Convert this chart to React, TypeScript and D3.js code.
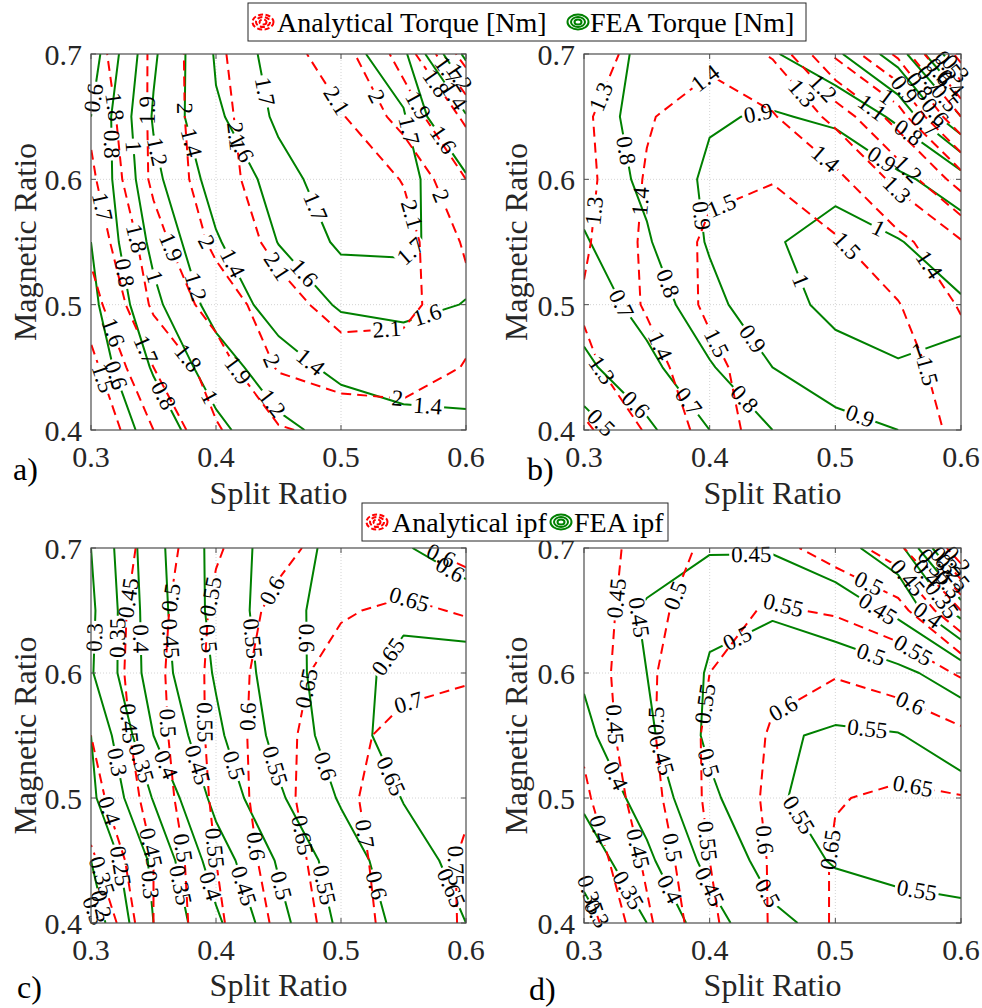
import React from "react";
import * as d3 from "d3";

type Pt = [number, number];

const splitRatio = [0.3, 0.35, 0.4, 0.45, 0.5, 0.55, 0.6];
const magneticRatio = [0.4, 0.45, 0.5, 0.55, 0.6, 0.65, 0.7];
const xTickValues = [0.3, 0.4, 0.5, 0.6];
const yTickValues = [0.4, 0.5, 0.6, 0.7];

// rows: magnetic ratio 0.40 -> 0.70 ; columns: split ratio 0.30 -> 0.60
const analyticalTorqueA = [
  [1.41, 1.6, 1.79, 1.89, 1.93, 1.95, 1.96],
  [1.47, 1.7, 1.85, 2.01, 2.05, 2.05, 1.995],
  [1.55, 1.82, 1.94, 2.06, 2.14, 2.13, 2.03],
  [1.63, 1.86, 2.025, 2.13, 2.18, 2.14, 1.985],
  [1.68, 1.92, 2.06, 2.16, 2.17, 2.095, 1.9],
  [1.72, 1.92, 2.08, 2.15, 2.11, 1.96, 1.78],
  [1.76, 1.915, 2.09, 2.15, 2.04, 1.86, 1.55],
];
const feaTorqueA = [
  [0.4, 0.68, 0.95, 1.15, 1.27, 1.33, 1.36],
  [0.48, 0.82, 1.1, 1.32, 1.45, 1.5, 1.48],
  [0.55, 0.95, 1.28, 1.48, 1.62, 1.64, 1.595],
  [0.6, 1.05, 1.38, 1.605, 1.72, 1.72, 1.65],
  [0.62, 1.15, 1.48, 1.66, 1.76, 1.73, 1.62],
  [0.6, 1.22, 1.58, 1.72, 1.78, 1.71, 1.42],
  [0.5, 1.17, 1.62, 1.74, 1.74, 1.64, 0.95],
];
const analyticalTorqueB = [
  [1.18, 1.31, 1.44, 1.56, 1.59, 1.55, 1.48],
  [1.28, 1.36, 1.47, 1.57, 1.58, 1.54, 1.45],
  [1.31, 1.41, 1.52, 1.57, 1.56, 1.505, 1.39],
  [1.285, 1.42, 1.52, 1.56, 1.51, 1.43, 1.31],
  [1.27, 1.41, 1.48, 1.495, 1.43, 1.27, 1.05],
  [1.285, 1.39, 1.46, 1.41, 1.27, 1.05, 0.7],
  [1.25, 1.34, 1.37, 1.29, 0.98, 0.78, 0.35],
];
const feaTorqueB = [
  [0.45, 0.58, 0.7, 0.8, 0.86, 0.9, 0.93],
  [0.58, 0.67, 0.79, 0.9, 0.97, 0.995, 0.99],
  [0.64, 0.74, 0.87, 0.97, 1.02, 1.03, 1.01],
  [0.69, 0.79, 0.91, 0.995, 1.02, 1.005, 0.95],
  [0.74, 0.82, 0.92, 0.97, 0.985, 0.92, 0.85],
  [0.76, 0.83, 0.89, 0.91, 0.88, 0.78, 0.5],
  [0.72, 0.83, 0.86, 0.81, 0.72, 0.55, 0.2],
];
const analyticalIpfC = [
  [0.28, 0.45, 0.54, 0.61, 0.675, 0.72, 0.755],
  [0.34, 0.45, 0.55, 0.625, 0.68, 0.725, 0.755],
  [0.38, 0.47, 0.56, 0.635, 0.69, 0.725, 0.745],
  [0.4, 0.48, 0.565, 0.635, 0.685, 0.715, 0.72],
  [0.41, 0.485, 0.565, 0.63, 0.67, 0.685, 0.695],
  [0.41, 0.48, 0.56, 0.615, 0.645, 0.66, 0.645],
  [0.4, 0.47, 0.545, 0.585, 0.625, 0.61, 0.58],
];
const feaIpfC = [
  [0.17, 0.3, 0.39, 0.485, 0.56, 0.615, 0.65],
  [0.2, 0.31, 0.425, 0.505, 0.575, 0.63, 0.665],
  [0.24, 0.353, 0.465, 0.543, 0.605, 0.652, 0.68],
  [0.25, 0.4, 0.49, 0.565, 0.625, 0.675, 0.69],
  [0.295, 0.425, 0.505, 0.575, 0.63, 0.665, 0.67],
  [0.29, 0.43, 0.515, 0.58, 0.625, 0.64, 0.63],
  [0.3, 0.435, 0.515, 0.575, 0.615, 0.605, 0.57],
];
const analyticalIpfD = [
  [0.32, 0.44, 0.54, 0.605, 0.655, 0.675, 0.68],
  [0.36, 0.46, 0.55, 0.605, 0.655, 0.67, 0.675],
  [0.39, 0.48, 0.56, 0.61, 0.648, 0.656, 0.652],
  [0.41, 0.49, 0.56, 0.605, 0.62, 0.63, 0.61],
  [0.42, 0.49, 0.55, 0.59, 0.598, 0.58, 0.545],
  [0.42, 0.48, 0.535, 0.555, 0.545, 0.52, 0.4],
  [0.42, 0.47, 0.51, 0.515, 0.48, 0.42, 0.2],
];
const feaIpfD = [
  [0.28, 0.35, 0.43, 0.49, 0.515, 0.53, 0.54],
  [0.32, 0.39, 0.465, 0.52, 0.555, 0.565, 0.565],
  [0.36, 0.42, 0.49, 0.545, 0.565, 0.57, 0.565],
  [0.39, 0.44, 0.51, 0.545, 0.555, 0.552, 0.53],
  [0.405, 0.45, 0.505, 0.525, 0.525, 0.51, 0.48],
  [0.42, 0.455, 0.49, 0.495, 0.475, 0.44, 0.33],
  [0.43, 0.43, 0.445, 0.445, 0.42, 0.37, 0.15],
];

const analyticalTorqueLevelsA = [1.5, 1.6, 1.7, 1.8, 1.9, 2, 2.1];
const feaTorqueLevelsA = [0.4, 0.6, 0.8, 1, 1.2, 1.4, 1.6, 1.7];
const analyticalTorqueLevelsB = [0.4, 0.5, 0.6, 0.7, 0.8, 0.9, 1, 1.1, 1.2, 1.3, 1.4, 1.5];
const feaTorqueLevelsB = [0.3, 0.4, 0.5, 0.6, 0.7, 0.8, 0.9, 1];
const analyticalIpfLevelsC = [0.2, 0.25, 0.3, 0.35, 0.4, 0.45, 0.5, 0.55, 0.6, 0.65, 0.7, 0.75];
const feaIpfLevelsC = [0.2, 0.25, 0.3, 0.35, 0.4, 0.45, 0.5, 0.55, 0.6, 0.65];
const analyticalIpfLevelsD = [0.25, 0.3, 0.35, 0.4, 0.45, 0.5, 0.55, 0.6, 0.65];
const feaIpfLevelsD = [0.2, 0.25, 0.3, 0.35, 0.4, 0.45, 0.5, 0.55];

const FONT = '"Liberation Serif", "Times New Roman", Times, serif';
const RED = "#ff0000";
const GREEN = "#008000";
const AXIS = "#262626";
const W = 982;
const H = 1008;

function contourLines(grid: number[][], xs: number[], ys: number[], level: number): Pt[][] {
  const L = level + 1e-9;
  const nx = xs.length;
  const ny = ys.length;
  const pts = new Map<string, Pt>();
  const adj = new Map<string, string[]>();
  const above = (i: number, j: number) => grid[j][i] > L;
  const edge = (key: string, i0: number, j0: number, i1: number, j1: number) => {
    if (!pts.has(key)) {
      const a = grid[j0][i0];
      const b = grid[j1][i1];
      const t = (L - a) / (b - a);
      pts.set(key, [xs[i0] + t * (xs[i1] - xs[i0]), ys[j0] + t * (ys[j1] - ys[j0])]);
    }
    return key;
  };
  const addSeg = (a: string, b: string) => {
    if (!adj.has(a)) adj.set(a, []);
    if (!adj.has(b)) adj.set(b, []);
    adj.get(a)!.push(b);
    adj.get(b)!.push(a);
  };
  for (let j = 0; j < ny - 1; j++) {
    for (let i = 0; i < nx - 1; i++) {
      const c = [above(i, j), above(i + 1, j), above(i + 1, j + 1), above(i, j + 1)];
      const e: (string | null)[] = [
        c[0] !== c[1] ? edge(`h${i},${j}`, i, j, i + 1, j) : null,
        c[1] !== c[2] ? edge(`v${i + 1},${j}`, i + 1, j, i + 1, j + 1) : null,
        c[3] !== c[2] ? edge(`h${i},${j + 1}`, i, j + 1, i + 1, j + 1) : null,
        c[0] !== c[3] ? edge(`v${i},${j}`, i, j, i, j + 1) : null,
      ];
      const present = e.filter((k) => k !== null) as string[];
      if (present.length === 2) addSeg(present[0], present[1]);
      else if (present.length === 4) {
        const center = (grid[j][i] + grid[j][i + 1] + grid[j + 1][i + 1] + grid[j + 1][i]) / 4 > L;
        if (center === c[0]) {
          addSeg(e[0]!, e[1]!);
          addSeg(e[2]!, e[3]!);
        } else {
          addSeg(e[3]!, e[0]!);
          addSeg(e[1]!, e[2]!);
        }
      }
    }
  }
  const visited = new Set<string>();
  const result: Pt[][] = [];
  const walk = (start: string) => {
    const keys: string[] = [start];
    visited.add(start);
    let cur = start;
    while (true) {
      const nb = (adj.get(cur) || []).find((k) => !visited.has(k));
      if (!nb) break;
      visited.add(nb);
      keys.push(nb);
      cur = nb;
    }
    if (keys.length > 2 && (adj.get(cur) || []).includes(start)) keys.push(start);
    result.push(keys.map((k) => pts.get(k)!));
  };
  for (const [k, v] of adj) if (v.length === 1 && !visited.has(k)) walk(k);
  for (const k of adj.keys()) if (!visited.has(k)) walk(k);
  return result;
}

function labelWidth(s: string, fs: number) {
  let w = 0;
  for (const ch of s) w += ch === "." ? 0.25 : 0.5;
  return w * fs;
}

function placeLabels(poly: Pt[], spacing: number, phase: number) {
  const lens: number[] = [];
  let total = 0;
  for (let k = 1; k < poly.length; k++) {
    const l = Math.hypot(poly[k][0] - poly[k - 1][0], poly[k][1] - poly[k - 1][1]);
    lens.push(l);
    total += l;
  }
  const out: { x: number; y: number; angle: number }[] = [];
  if (total < 22) return out;
  const n = Math.max(1, Math.round(total / spacing));
  for (let m = 0; m < n; m++) {
    let s = (total * (m + phase)) / n;
    let k = 0;
    while (k < lens.length - 1 && s > lens[k]) {
      s -= lens[k];
      k++;
    }
    const t = lens[k] > 0 ? Math.min(1, s / lens[k]) : 0;
    const a = poly[k];
    const b = poly[k + 1];
    let ang = (Math.atan2(b[1] - a[1], b[0] - a[0]) * 180) / Math.PI;
    if (ang > 90) ang -= 180;
    if (ang < -90) ang += 180;
    out.push({ x: a[0] + t * (b[0] - a[0]), y: a[1] + t * (b[1] - a[1]), angle: ang });
  }
  return out;
}

const fmt = (v: number) => String(+v.toFixed(2));

type PanelSpec = {
  id: string;
  letter: string;
  x0: number;
  x1: number;
  y0: number;
  y1: number;
  ana: number[][];
  anaLevels: number[];
  fea: number[][];
  feaLevels: number[];
  letterX: number;
  letterY: number;
  yLabelX: number;
  xLabelY: number;
};

const panels: PanelSpec[] = [
  { id: "a", letter: "a)", x0: 91, x1: 466, y0: 54, y1: 430, ana: analyticalTorqueA, anaLevels: analyticalTorqueLevelsA, fea: feaTorqueA, feaLevels: feaTorqueLevelsA, letterX: 13, letterY: 480, yLabelX: 36, xLabelY: 504 },
  { id: "b", letter: "b)", x0: 584, x1: 961, y0: 54, y1: 430, ana: analyticalTorqueB, anaLevels: analyticalTorqueLevelsB, fea: feaTorqueB, feaLevels: feaTorqueLevelsB, letterX: 527, letterY: 480, yLabelX: 527, xLabelY: 504 },
  { id: "c", letter: "c)", x0: 91, x1: 466, y0: 548, y1: 923, ana: analyticalIpfC, anaLevels: analyticalIpfLevelsC, fea: feaIpfC, feaLevels: feaIpfLevelsC, letterX: 17, letterY: 998, yLabelX: 36, xLabelY: 996 },
  { id: "d", letter: "d)", x0: 584, x1: 961, y0: 548, y1: 923, ana: analyticalIpfD, anaLevels: analyticalIpfLevelsD, fea: feaIpfD, feaLevels: feaIpfLevelsD, letterX: 529, letterY: 1000, yLabelX: 527, xLabelY: 996 },
];

const LABEL_FS = 23;

function Panel({ p }: { p: PanelSpec }) {
  const xs = d3.scaleLinear().domain([0.3, 0.6]).range([p.x0, p.x1]);
  const ys = d3.scaleLinear().domain([0.4, 0.7]).range([p.y1, p.y0]);
  const line = d3
    .line<Pt>()
    .x((d) => xs(d[0]))
    .y((d) => ys(d[1]));
  const fields = [
    { key: "fea", grid: p.fea, levels: p.feaLevels, color: GREEN, dash: undefined as string | undefined, phase: 0.3 },
    { key: "ana", grid: p.ana, levels: p.anaLevels, color: RED, dash: "10,6", phase: 0.6 },
  ];
  const computed = fields.map((f) => {
    const paths: string[] = [];
    const labels: { x: number; y: number; angle: number; text: string }[] = [];
    f.levels.forEach((level) => {
      const polys = contourLines(f.grid, splitRatio, magneticRatio, level);
      polys.forEach((poly) => {
        paths.push(line(poly) || "");
        const px: Pt[] = poly.map((d) => [xs(d[0]), ys(d[1])]);
        placeLabels(px, 145, f.phase).forEach((l) => labels.push({ ...l, text: fmt(level) }));
      });
    });
    return { ...f, paths, labels };
  });
  const cx = (p.x0 + p.x1) / 2;
  const cy = (p.y0 + p.y1) / 2;
  return (
    <g>
      <defs>
        <clipPath id={`clip-${p.id}`}>
          <rect x={p.x0} y={p.y0} width={p.x1 - p.x0} height={p.y1 - p.y0} />
        </clipPath>
        {computed.map((f) => (
          <mask key={f.key} id={`mask-${p.id}-${f.key}`} maskUnits="userSpaceOnUse" x={0} y={0} width={W} height={H}>
            <rect x={0} y={0} width={W} height={H} fill="white" />
            {f.labels.map((l, i) => {
              const w = labelWidth(l.text, LABEL_FS) + 4;
              const h = LABEL_FS * 0.8;
              return (
                <rect
                  key={i}
                  x={-w / 2}
                  y={-h / 2}
                  width={w}
                  height={h}
                  fill="black"
                  transform={`translate(${l.x},${l.y}) rotate(${l.angle})`}
                />
              );
            })}
          </mask>
        ))}
      </defs>
      <rect x={p.x0} y={p.y0} width={p.x1 - p.x0} height={p.y1 - p.y0} fill="white" />
      {xTickValues.slice(1, -1).map((t) => (
        <line key={`gx${t}`} x1={xs(t)} x2={xs(t)} y1={p.y0} y2={p.y1} stroke="#d4d4d4" strokeWidth={1} strokeDasharray="1,2" />
      ))}
      {yTickValues.slice(1, -1).map((t) => (
        <line key={`gy${t}`} y1={ys(t)} y2={ys(t)} x1={p.x0} x2={p.x1} stroke="#d4d4d4" strokeWidth={1} strokeDasharray="1,2" />
      ))}
      <g clipPath={`url(#clip-${p.id})`}>
        {computed.map((f) => (
          <g key={f.key} mask={`url(#mask-${p.id}-${f.key})`}>
            {f.paths.map((d, i) => (
              <path key={i} d={d} fill="none" stroke={f.color} strokeWidth={2} strokeDasharray={f.dash} strokeLinejoin="round" />
            ))}
          </g>
        ))}
      </g>
      {computed.map((f) => (
        <g key={`t${f.key}`}>
          {f.labels.map((l, i) => (
            <text
              key={i}
              transform={`translate(${l.x},${l.y}) rotate(${l.angle})`}
              textAnchor="middle"
              dominantBaseline="central"
              fontFamily={FONT}
              fontSize={LABEL_FS}
              fill="#000"
            >
              {l.text}
            </text>
          ))}
        </g>
      ))}
      <rect x={p.x0} y={p.y0} width={p.x1 - p.x0} height={p.y1 - p.y0} fill="none" stroke="#4d4d4d" strokeWidth={1.2} />
      {xTickValues.map((t) => (
        <g key={`tx${t}`}>
          <line x1={xs(t)} x2={xs(t)} y1={p.y1} y2={p.y1 - 5} stroke="#4d4d4d" strokeWidth={1} />
          <line x1={xs(t)} x2={xs(t)} y1={p.y0} y2={p.y0 + 5} stroke="#4d4d4d" strokeWidth={1} />
          <text x={xs(t)} y={p.y1 + 37} textAnchor="middle" fontFamily={FONT} fontSize={30} fill={AXIS}>
            {t.toFixed(1)}
          </text>
        </g>
      ))}
      {yTickValues.map((t) => (
        <g key={`ty${t}`}>
          <line x1={p.x0} x2={p.x0 + 5} y1={ys(t)} y2={ys(t)} stroke="#4d4d4d" strokeWidth={1} />
          <line x1={p.x1} x2={p.x1 - 5} y1={ys(t)} y2={ys(t)} stroke="#4d4d4d" strokeWidth={1} />
          <text x={p.x0 - 9} y={ys(t) + 11} textAnchor="end" fontFamily={FONT} fontSize={30} fill={AXIS}>
            {t.toFixed(1)}
          </text>
        </g>
      ))}
      <text x={cx} y={p.xLabelY} textAnchor="middle" fontFamily={FONT} fontSize={32} fill={AXIS}>
        Split Ratio
      </text>
      <text transform={`translate(${p.yLabelX},${cy}) rotate(-90)`} textAnchor="middle" fontFamily={FONT} fontSize={32} fill={AXIS}>
        Magnetic Ratio
      </text>
      <text x={p.letterX} y={p.letterY} fontFamily={FONT} fontSize={32} fill="#000">
        {p.letter}
      </text>
    </g>
  );
}

function LegendIcon({ cx, cy, color, dashed }: { cx: number; cy: number; color: string; dashed: boolean }) {
  const rings = [
    [10.5, 7.5],
    [7, 5],
    [3.5, 2.5],
  ];
  return (
    <g>
      {rings.map(([rx, ry], i) => (
        <ellipse key={i} cx={cx} cy={cy} rx={rx} ry={ry} fill="none" stroke={color} strokeWidth={2} strokeDasharray={dashed ? "5,2.5" : undefined} />
      ))}
    </g>
  );
}

type LegendSpec = { x0: number; x1: number; y0: number; y1: number; items: { icon: number; textX: number; text: string; color: string; dashed: boolean }[] };

const legendTorqueItems = ["Analytical Torque [Nm]", "FEA Torque [Nm]"];
const legendIpfItems = ["Analytical ipf", "FEA ipf"];

const legends: LegendSpec[] = [
  {
    x0: 248, x1: 806, y0: 3, y1: 41,
    items: [
      { icon: 263, textX: 277, text: legendTorqueItems[0], color: RED, dashed: true },
      { icon: 578, textX: 590, text: legendTorqueItems[1], color: GREEN, dashed: false },
    ],
  },
  {
    x0: 362, x1: 668, y0: 503, y1: 541,
    items: [
      { icon: 377, textX: 392, text: legendIpfItems[0], color: RED, dashed: true },
      { icon: 561, textX: 574, text: legendIpfItems[1], color: GREEN, dashed: false },
    ],
  },
];

export default function App() {
  return (
    <svg width={W} height={H} viewBox={`0 0 ${W} ${H}`} style={{ position: "absolute", left: 0, top: 0, background: "white" }}>
      <rect x={0} y={0} width={W} height={H} fill="white" />
      {panels.map((p) => (
        <Panel key={p.id} p={p} />
      ))}
      {legends.map((lg, i) => (
        <g key={i}>
          <rect x={lg.x0} y={lg.y0} width={lg.x1 - lg.x0} height={lg.y1 - lg.y0} fill="white" stroke="#262626" strokeWidth={1} />
          {lg.items.map((it, k) => (
            <g key={k}>
              <LegendIcon cx={it.icon} cy={(lg.y0 + lg.y1) / 2} color={it.color} dashed={it.dashed} />
              <text x={it.textX} y={lg.y0 + 29} fontFamily={FONT} fontSize={28} fill="#000">
                {it.text}
              </text>
            </g>
          ))}
        </g>
      ))}
    </svg>
  );
}
